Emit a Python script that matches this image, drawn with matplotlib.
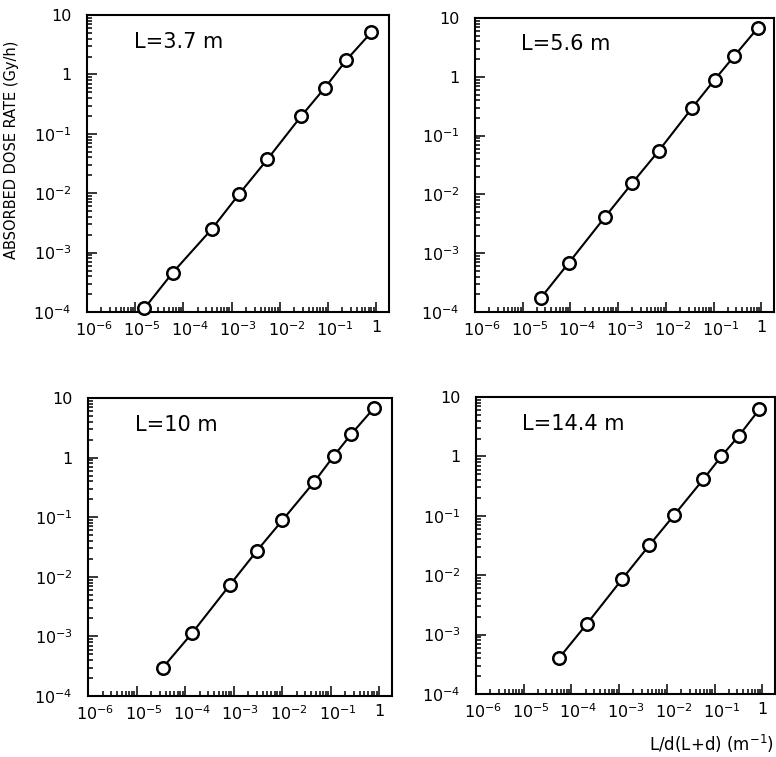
import numpy as np
import matplotlib
matplotlib.use('Agg')
import matplotlib.pyplot as plt
from matplotlib.ticker import FixedLocator, LogLocator, NullFormatter
from matplotlib.transforms import ScaledTranslation

# Panel titles (source length L)
titles = ['L=3.7 m', 'L=5.6 m', 'L=10 m', 'L=14.4 m']

# L/d(L+d) (m^-1) values
x_37 = [1.55e-5, 6.0e-5, 3.9e-4, 1.45e-3, 5.5e-3, 2.8e-2, 8.7e-2, 0.24, 0.79]
x_56 = [2.4e-5, 9.3e-5, 5.4e-4, 2.0e-3, 7.1e-3, 3.6e-2, 0.105, 0.27, 0.85]
x_10 = [3.5e-5, 1.38e-4, 8.3e-4, 3.0e-3, 1.02e-2, 4.6e-2, 0.115, 0.27, 0.79]
x_144 = [5.6e-5, 2.1e-4, 1.17e-3, 4.3e-3, 1.41e-2, 5.8e-2, 0.138, 0.32, 0.87]

# Absorbed dose rate (Gy/h)
y_37 = [1.15e-4, 4.6e-4, 2.5e-3, 9.8e-3, 3.7e-2, 0.20, 0.60, 1.74, 5.1]
y_56 = [1.74e-4, 6.9e-4, 4.2e-3, 1.58e-2, 5.5e-2, 0.30, 0.89, 2.24, 6.8]
y_10 = [3.0e-4, 1.12e-3, 7.2e-3, 2.7e-2, 8.9e-2, 0.39, 1.05, 2.5, 6.8]
y_144 = [4.1e-4, 1.51e-3, 8.7e-3, 3.2e-2, 0.102, 0.41, 1.0, 2.2, 6.2]

xs = [x_37, x_56, x_10, x_144]
ys = [y_37, y_56, y_10, y_144]

# tick labels
x_ticks = [1e-6, 1e-5, 1e-4, 1e-3, 1e-2, 1e-1, 1]
x_ticklabels = [r'$\mathregular{10^{-6}}$', r'$\mathregular{10^{-5}}$',
                r'$\mathregular{10^{-4}}$', r'$\mathregular{10^{-3}}$',
                r'$\mathregular{10^{-2}}$', r'$\mathregular{10^{-1}}$', '1']
y_ticks = [1e-4, 1e-3, 1e-2, 1e-1, 1, 10]
y_ticklabels = [r'$\mathregular{10^{-4}}$', r'$\mathregular{10^{-3}}$',
                r'$\mathregular{10^{-2}}$', r'$\mathregular{10^{-1}}$', '1', '10']

plt.rcParams['font.family'] = ['DejaVu Sans']
plt.rcParams['axes.linewidth'] = 1.5

fig = plt.figure(figsize=(7.76, 7.57), dpi=100)

# axes rectangles in figure fractions
rects = [[0.1121, 0.5878, 0.3892, 0.3923],
         [0.6121, 0.5878, 0.3853, 0.3884],
         [0.1134, 0.0806, 0.3918, 0.3937],
         [0.6134, 0.0832, 0.3853, 0.3923]]

shift = ScaledTranslation(5 / 72, 0, fig.dpi_scale_trans)

for rect, x, y, title in zip(rects, xs, ys, titles):
    ax = fig.add_axes(rect)
    ax.plot(x, y, '-', color='black', linewidth=1.5, zorder=2)
    ax.plot(x, y, 'o', markersize=9, markerfacecolor='white',
            markeredgecolor='black', markeredgewidth=1.8, zorder=3,
            clip_on=False)
    ax.set_xscale('log')
    ax.set_yscale('log')
    ax.set_xlim(1e-6, 1.85)
    ax.set_ylim(1e-4, 10)

    ax.xaxis.set_major_locator(FixedLocator(x_ticks))
    ax.set_xticklabels(x_ticklabels)
    ax.yaxis.set_major_locator(FixedLocator(y_ticks))
    ax.set_yticklabels(y_ticklabels)
    ax.xaxis.set_minor_locator(LogLocator(base=10, subs=np.arange(2, 10), numticks=30))
    ax.yaxis.set_minor_locator(LogLocator(base=10, subs=np.arange(2, 10), numticks=30))
    ax.xaxis.set_minor_formatter(NullFormatter())
    ax.yaxis.set_minor_formatter(NullFormatter())

    ax.tick_params(which='both', direction='in', top=False, right=False,
                   width=1.1, labelsize=11.5)
    ax.tick_params(which='major', length=7)
    ax.tick_params(which='minor', length=3.5)
    ax.tick_params(axis='x', pad=6)
    ax.tick_params(axis='y', pad=11)

    # put the "10" of each x label on its tick, exponent to the right
    for lab in ax.get_xticklabels():
        if lab.get_text() != '1':
            lab.set_transform(lab.get_transform() + shift)

    ax.text(0.155, 0.91, title, transform=ax.transAxes, fontsize=15,
            ha='left', va='center')

fig.text(12 / 776, 1 - 150 / 757, 'ABSORBED DOSE RATE (Gy/h)', rotation=90,
         ha='center', va='center', fontsize=10.5)
fig.text(0.998, 1 - 744 / 757, r'L/d(L+d) (m$^{\mathregular{-1}}$)',
         ha='right', va='center', fontsize=12)

fig.savefig('out.png', dpi=100, facecolor='white')
